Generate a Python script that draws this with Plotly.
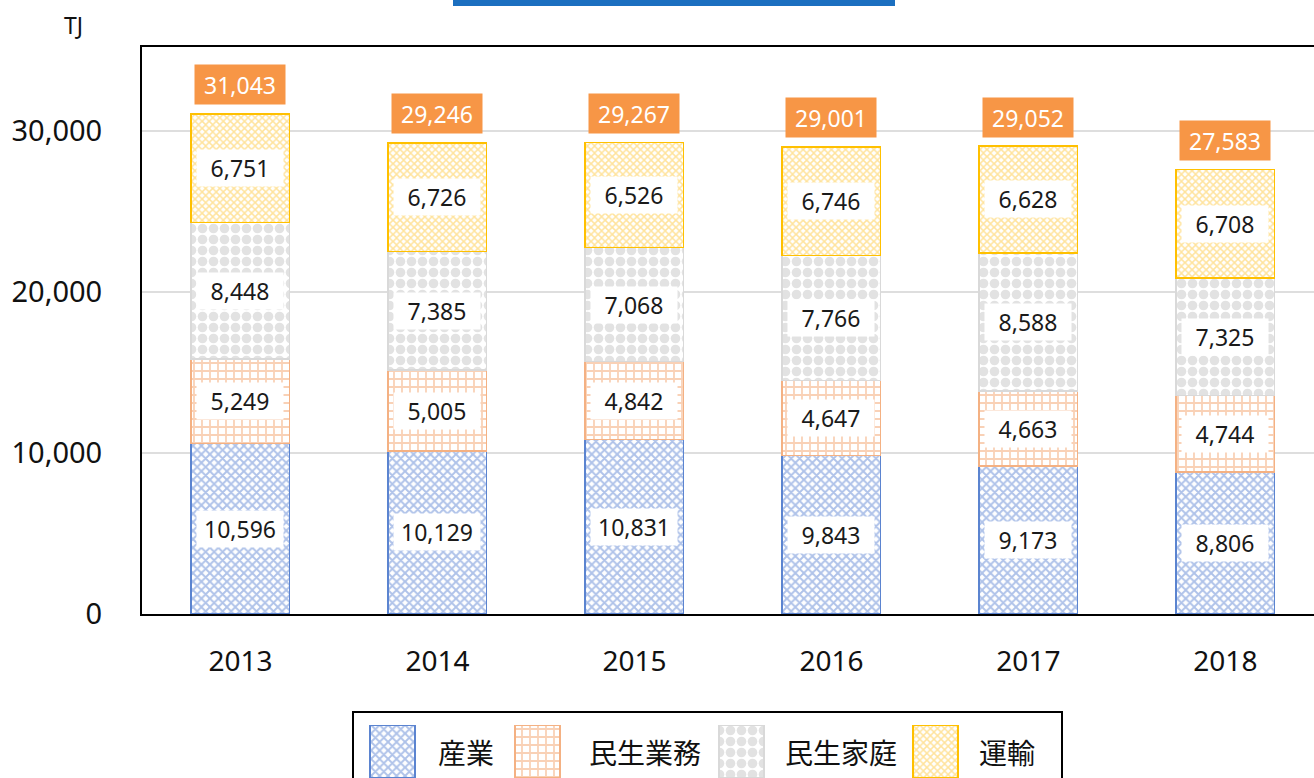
import plotly.graph_objects as go

# data
years = ["2013", "2014", "2015", "2016", "2017", "2018"]
sangyo = [10596, 10129, 10831, 9843, 9173, 8806]
minsei_gyomu = [5249, 5005, 4842, 4647, 4663, 4744]
minsei_katei = [8448, 7385, 7068, 7766, 8588, 7325]
unyu = [6751, 6726, 6526, 6746, 6628, 6708]
totals = [31043, 29246, 29267, 29001, 29052, 27583]
series_names = ["産業", "民生業務", "民生家庭", "運輸"]

W, H = 1314, 778
L = 142  # left margin in px

NUM_FONT = "Noto Sans, Open Sans, sans-serif"
JP_FONT = "Noto Sans CJK JP, sans-serif"

# style per series: (line, pattern fg, shape, size, solidity)
styles = [
    ("#5b84d0", "#5f86d3", "x", 6, 0.55),
    ("#f4b183", "#f3a46d", "+", 8, 0.4),
    ("#d9d9d9", "#c6c6c6", ".", 11, 0.6),
    ("#ffc000", "#ffc73a", "x", 5, 0.5),
]

all_series = [sangyo, minsei_gyomu, minsei_katei, unyu]

fig = go.Figure()

for name, vals, (lc, fg, shp, sz, sol) in zip(series_names, all_series, styles):
    fig.add_trace(go.Bar(
        x=years, y=vals, name=name, width=0.5,
        marker=dict(
            color="white",
            line=dict(color=lc, width=1.5),
            pattern=dict(shape=shp, fgcolor=fg, bgcolor="white", size=sz,
                         solidity=sol, fillmode="overlay"),
        ),
        showlegend=False, hoverinfo="skip",
    ))

# value labels in white boxes at segment centers
base = [0] * len(years)
for vals in all_series:
    for i, v in enumerate(vals):
        fig.add_annotation(
            x=i, y=base[i] + v / 2, text=f"{v:,}", showarrow=False,
            font=dict(family=NUM_FONT, size=23, color="#1a1a1a"),
            bgcolor="white", width=78, height=28, borderpad=4,
        )
        base[i] += v

# totals in orange boxes above bars
for i, t in enumerate(totals):
    fig.add_annotation(
        x=i, y=t, yshift=29, text=f"{t:,}", showarrow=False,
        font=dict(family=NUM_FONT, size=23, color="white"),
        bgcolor="#f79646", width=80, height=29, borderpad=5,
    )

# legend swatches drawn on a second axis in pixel units
sw_x = [392, 537, 741, 935]
for name, xx, (lc, fg, shp, sz, sol) in zip(series_names, sw_x, styles):
    fig.add_trace(go.Bar(
        x=[xx], y=[1], width=45, xaxis="x2", yaxis="y2",
        marker=dict(
            color="white",
            line=dict(color=lc, width=2),
            pattern=dict(shape=shp, fgcolor=fg, bgcolor="white", size=sz,
                         solidity=sol, fillmode="overlay"),
        ),
        showlegend=False, hoverinfo="skip",
    ))

lab_x = [466, 645, 841, 1007]
for name, xx in zip(series_names, lab_x):
    fig.add_annotation(
        x=xx, y=0.5, xref="x2", yref="y2", text=name, showarrow=False,
        font=dict(family=JP_FONT, size=28, color="#111111"),
    )

# legend frame
fig.add_shape(
    type="rect", xref="paper", yref="paper",
    x0=(353 - L) / (W - L), x1=(1062 - L) / (W - L),
    y0=-0.02, y1=(H - 712) / H,
    line=dict(color="black", width=2), fillcolor="rgba(0,0,0,0)",
)

# blue brush stroke at the top
fig.add_shape(
    type="rect", xref="paper", yref="paper",
    x0=(453 - L) / (W - L), x1=(895 - L) / (W - L),
    y0=(H - 6) / H, y1=1.0,
    line=dict(width=0), fillcolor="#1b6fc0",
)

# unit label
fig.add_annotation(
    xref="paper", yref="paper", x=(73 - L) / (W - L), y=(H - 25) / H,
    xanchor="center", yanchor="middle",
    text="TJ", showarrow=False,
    font=dict(family=NUM_FONT, size=23, color="#111111"),
)

fig.update_layout(
    width=W, height=H,
    margin=dict(l=L, r=0, t=0, b=0, autoexpand=False),
    barmode="stack",
    plot_bgcolor="white", paper_bgcolor="white",
    showlegend=False,
    xaxis=dict(
        domain=[0, 1], range=[-0.5, 5.45], type="category",
        showline=True, linecolor="black", linewidth=2, mirror=True,
        ticks="", showgrid=False, ticklabelstandoff=21, automargin=False,
        tickfont=dict(family=NUM_FONT, size=28, color="#111111"),
    ),
    yaxis=dict(
        domain=[(H - 614) / H, (H - 47) / H], range=[0, 35200],
        tickvals=[0, 10000, 20000, 30000],
        ticktext=["0", "10,000", "20,000", "30,000"],
        showline=True, linecolor="black", linewidth=2,
        showgrid=True, gridcolor="#dedede", gridwidth=1.5,
        zeroline=False, ticks="", ticklabelstandoff=32, automargin=False,
        tickfont=dict(family=NUM_FONT, size=29, color="#111111"),
    ),
    xaxis2=dict(
        domain=[0, 1], range=[L, W], anchor="y2", automargin=False,
        visible=False, fixedrange=True,
    ),
    yaxis2=dict(
        domain=[0, (H - 725) / H], range=[0, 1], anchor="x2", automargin=False,
        visible=False, fixedrange=True,
    ),
)

# drop the default page margin so the figure fills the window exactly
fig.write_html("out.html", config={"displayModeBar": False},
               post_script="document.body.style.margin='0';")
